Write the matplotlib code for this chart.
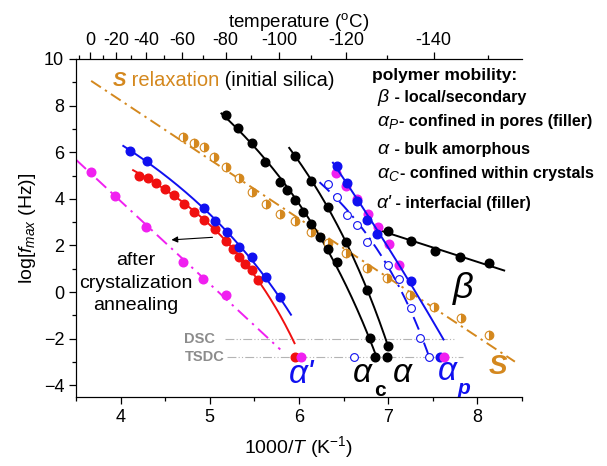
import numpy as np
import matplotlib
matplotlib.use("Agg")
import matplotlib.pyplot as plt

plt.rcParams['font.family'] = ['Liberation Sans', 'DejaVu Sans']
plt.rcParams['mathtext.fontset'] = 'custom'
plt.rcParams['mathtext.rm'] = 'Liberation Sans'
plt.rcParams['mathtext.it'] = 'Liberation Sans:italic'
plt.rcParams['mathtext.bf'] = 'Liberation Sans:bold'

# ---------------- data (x = 1000/T in 1/K, y = log f_max) ----------------
# after crystallization annealing (magenta, dash-dot)
anneal_x = [3.67, 3.94, 4.29, 4.70, 4.92, 5.18]
anneal_y = [5.16, 4.12, 2.80, 1.30, 0.56, -0.13]

# interfacial alpha' (red)
red_x = [4.21, 4.31, 4.40, 4.50, 4.60, 4.71, 4.82, 4.94, 5.06, 5.18, 5.26, 5.33, 5.40, 5.47, 5.54]
red_y = [5.00, 4.90, 4.69, 4.42, 4.15, 3.80, 3.45, 3.09, 2.70, 2.18, 1.85, 1.52, 1.20, 0.95, 0.52]
red_fit_end = (5.95, -2.20)

# interfacial alpha' (blue)
blue_x = [4.11, 4.30, 4.93, 5.06, 5.19, 5.33, 5.47, 5.63, 5.79]
blue_y = [6.06, 5.62, 3.59, 3.05, 2.57, 1.94, 1.49, 0.63, -0.20]
blue_fit_end = (5.91, -1.06)

# alpha_c (confined within crystals)
ac_x = [5.18, 5.32, 5.47, 5.62, 5.79, 5.87, 5.96, 6.05, 6.14, 6.24, 6.33, 6.43]
ac_y = [7.60, 7.03, 6.41, 5.60, 4.72, 4.38, 3.95, 3.45, 2.92, 2.38, 1.83, 1.30]
ac_cal_x = [6.80, 6.85]
ac_cal_y = [-1.98, -2.79]

# alpha (bulk amorphous)
a_x = [5.96, 6.13, 6.33, 6.53, 6.76]
a_y = [5.84, 4.78, 3.64, 2.14, 0.09]
a_cal_x = [7.00, 6.99]
a_cal_y = [-2.32, -2.78]

# alpha_p (confined in pores), blue and magenta samples
ap_blue_x = [6.43, 6.54, 6.65, 6.76, 6.87, 7.25]
ap_blue_y = [5.42, 4.68, 3.90, 3.10, 2.50, 0.48]
ap_mag_x = [6.42, 6.53, 6.65, 6.77, 6.88, 7.01, 7.12]
ap_mag_y = [5.12, 4.55, 3.98, 3.37, 2.80, 2.07, 1.16]
ap_fit_ends_x = [6.38, 7.62]
ap_fit_ends_y = [5.81, -2.11]

# open blue circles (dash-dot)
open_x = [6.32, 6.43, 6.54, 6.65, 6.76, 7.00, 7.12, 7.25]
open_y = [4.64, 4.06, 3.32, 2.88, 2.16, 1.18, 0.56, -0.68]
open_cal_x = [7.36, 7.46, 6.62]
open_cal_y = [-1.96, -2.80, -2.80]

# S relaxation (initial silica)
s_x = [4.70, 4.82, 4.93, 5.05, 5.18, 5.33, 5.47, 5.63, 5.79, 5.96, 6.13, 6.33,
       6.53, 6.76, 6.99, 7.24, 7.51, 7.82, 8.13]
s_y = [6.64, 6.41, 6.21, 5.78, 5.38, 4.90, 4.30, 3.80, 3.36, 3.04, 2.57, 2.12,
       1.66, 1.02, 0.60, -0.13, -0.66, -1.13, -1.82]

# beta (local/secondary)
beta_x = [7.00, 7.25, 7.52, 7.81, 8.13]
beta_y = [2.63, 2.20, 1.76, 1.49, 1.23]

# calorimetric levels
dsc_level = -2.0
tsdc_level = -2.8
red_tsdc = (5.95, -2.80)
mag_tsdc = (6.02, -2.80)
ap_blue_tsdc = (7.58, -2.78)
ap_mag_tsdc = (7.63, -2.78)

# top axis temperatures (deg C)
top_major_c = [0, -20, -40, -60, -80, -100, -120, -140]
top_minor_c = [10, -10, -30, -50, -70, -90, -110, -130, -150]

# legend of mobilities: (symbol, description)
legend_symbols = [r"$\beta$", r"$\alpha_P$", r"$\alpha$", r"$\alpha_C$", "\u03b1'"]
legend_texts = [" - local/secondary", "- confined in pores (filler)",
                " - bulk amorphous", "- confined within crystals",
                " - interfacial (filler)"]
legend_rows_y = [8.37, 7.34, 6.14, 5.11, 3.82]

# colours
C_BLUE = '#1010f0'
C_RED = '#f01010'
C_MAG = '#f020f0'
C_ORANGE = '#d4881e'
C_GREY = '#8c8c8c'


def vft_fit(xs, ys, x_lo, x_hi, n=400):
    """VFT fit log f = A + B/(T - T0), T = 1000/x; returns curve on [x_lo, x_hi]."""
    xs = np.asarray(xs, float)
    ys = np.asarray(ys, float)
    T = 1000.0 / xs
    xx = np.linspace(x_lo, x_hi, n)
    TT = 1000.0 / xx
    best = None
    for T0 in np.linspace(0.0, min(T.min(), TT.min()) - 0.5, 600):
        X = 1.0 / (T - T0)
        M = np.vstack([np.ones_like(X), X]).T
        coef, *_ = np.linalg.lstsq(M, ys, rcond=None)
        r = np.sum((M @ coef - ys) ** 2)
        if best is None or r < best[0]:
            best = (r, T0, coef)
    _, T0, coef = best
    return xx, coef[0] + coef[1] / (TT - T0)


def lin_fit(xs, ys, x_lo, x_hi):
    p = np.polyfit(xs, ys, 1)
    xx = np.linspace(x_lo, x_hi, 50)
    return xx, np.polyval(p, xx)


fig = plt.figure(figsize=(6.07, 4.66), dpi=100)
ax = fig.add_axes([0.1252, 0.1481, 0.7348, 0.7253])
ax.set_xlim(3.5, 8.5)
ax.set_ylim(-4.5, 10)

LW = 1.4
MS = 6.2

# calorimetric reference lines
ax.plot([5.17, 7.75], [dsc_level, dsc_level], color='#b4b4b4', lw=0.8,
        ls=(0, (8, 2, 1, 2, 1, 2)), zorder=1)
ax.plot([5.19, 7.84], [tsdc_level, tsdc_level], color='#b4b4b4', lw=0.8,
        ls=(0, (8, 2, 1, 2, 1, 2)), zorder=1)
ax.text(5.06, dsc_level, 'DSC', color=C_GREY, fontsize=10.5, fontweight='bold',
        ha='right', va='center')
ax.text(5.17, tsdc_level, 'TSDC', color=C_GREY, fontsize=10.5, fontweight='bold',
        ha='right', va='center')

# S relaxation
xx, yy = lin_fit(s_x, s_y, 3.67, 8.42)
ax.plot(xx, yy, color=C_ORANGE, lw=LW, ls=(0, (6, 2.5, 1.2, 2.5)), zorder=2)
ax.plot(s_x, s_y, 'o', ms=MS, color=C_ORANGE, fillstyle='right',
        markerfacecoloralt='white', mec=C_ORANGE, mew=0.8, zorder=3)

# annealed sample (magenta)
xx, yy = vft_fit(anneal_x, anneal_y, 3.5, 5.79)
ax.plot(xx, yy, color=C_MAG, lw=LW, ls=(0, (7, 3, 1.2, 3)), zorder=2)
ax.plot(anneal_x, anneal_y, 'o', ms=MS, color=C_MAG, mec=C_MAG, zorder=3)

# alpha' red and blue
xx, yy = vft_fit(red_x + [red_fit_end[0]], red_y + [red_fit_end[1]], 4.14, 5.95)
ax.plot(xx, yy, color=C_RED, lw=LW, zorder=2)
ax.plot(red_x, red_y, 'o', ms=MS, color=C_RED, mec=C_RED, zorder=3)
xx, yy = vft_fit(blue_x + [blue_fit_end[0]], blue_y + [blue_fit_end[1]], 4.03, 5.91)
ax.plot(xx, yy, color=C_BLUE, lw=LW, zorder=2)
ax.plot(blue_x, blue_y, 'o', ms=MS, color=C_BLUE, mec=C_BLUE, zorder=3)
ax.plot(*red_tsdc, 'o', ms=MS, color=C_RED, mec=C_RED, zorder=3)
ax.plot(*mag_tsdc, 'o', ms=MS, color=C_MAG, mec=C_MAG, zorder=3)

# alpha_c
xx, yy = vft_fit(ac_x + ac_cal_x, ac_y + ac_cal_y, 5.13, 6.87)
ax.plot(xx, yy, color='black', lw=LW, zorder=2)
ax.plot(ac_x + ac_cal_x, ac_y + ac_cal_y, 'o', ms=MS, color='black', zorder=3)

# alpha
xx, yy = vft_fit(a_x + a_cal_x[:1], a_y + a_cal_y[:1], 5.89, 7.0)
ax.plot(xx, yy, color='black', lw=LW, zorder=2)
ax.plot(a_x + a_cal_x, a_y + a_cal_y, 'o', ms=MS, color='black', zorder=3)

# open circles (dash-dot)
xx, yy = vft_fit(open_x + open_cal_x[:2], open_y + open_cal_y[:2], 6.23, 7.46)
ax.plot(xx, yy, color=C_BLUE, lw=LW, ls=(0, (7, 3, 1.2, 3)), zorder=2)
ax.plot(open_x + open_cal_x, open_y + open_cal_y, 'o', ms=MS - 0.6, mfc='white',
        mec=C_BLUE, mew=0.8, zorder=3)

# alpha_p
ax.plot(ap_mag_x, ap_mag_y, 'o', ms=MS, color=C_MAG, mec=C_MAG, zorder=3)
ax.plot(ap_blue_x, ap_blue_y, 'o', ms=MS, color=C_BLUE, mec=C_BLUE, zorder=3)
xx, yy = vft_fit(ap_blue_x + ap_mag_x + ap_fit_ends_x,
                 ap_blue_y + ap_mag_y + ap_fit_ends_y, 6.38, 7.62)
ax.plot(xx, yy, color=C_BLUE, lw=LW, zorder=4)
ax.plot(*ap_blue_tsdc, 'o', ms=MS, color=C_BLUE, mec=C_BLUE, zorder=3)
ax.plot(*ap_mag_tsdc, 'o', ms=MS, color=C_MAG, mec=C_MAG, zorder=3)

# beta
xx, yy = lin_fit(beta_x, beta_y, 6.87, 8.30)
ax.plot(xx, yy, color='black', lw=LW, zorder=2)
ax.plot(beta_x, beta_y, 'o', ms=MS, color='black', zorder=3)

# arrow towards annealed data
ax.annotate('', xy=(4.57, 2.24), xytext=(5.03, 2.35),
            arrowprops=dict(arrowstyle='-|>', color='black', lw=0.8,
                            mutation_scale=9, shrinkA=0, shrinkB=0))
ax.text(4.17, 1.70, 'after\ncrystalization\nannealing', ha='center', va='top',
        fontsize=14, linespacing=1.4)

# curve labels
ax.text(6.03, -3.55, "\u03b1'", color=C_BLUE, fontsize=24, fontstyle='italic',
        ha='center', va='center')
ax.text(6.72, -3.5, r"$\alpha$", color='black', fontsize=24, ha='center', va='center')
ax.text(6.91, -4.22, 'c', color='black', fontsize=15, fontweight='bold',
        ha='center', va='center')
ax.text(7.17, -3.5, r"$\alpha$", color='black', fontsize=24, ha='center', va='center')
ax.text(7.67, -3.4, r"$\alpha$", color=C_BLUE, fontsize=24, ha='center', va='center')
ax.text(7.85, -4.15, 'p', color=C_BLUE, fontsize=15, fontweight='bold',
        fontstyle='italic', ha='center', va='center')
ax.text(7.84, 0.15, r"$\beta$", color='black', fontsize=26, ha='center', va='center')
ax.text(8.23, -3.2, 'S', color=C_ORANGE, fontsize=20, fontweight='bold',
        fontstyle='italic', ha='center', va='center')

ax.text(6.82, 9.31, 'polymer mobility:', fontsize=12.5, fontweight='bold',
        ha='left', va='center')

fig.canvas.draw()
renderer = fig.canvas.get_renderer()


def chain(x_data, y_data, pieces):
    """Place text pieces one after another on a common baseline."""
    x_disp, y_disp = ax.transData.transform((x_data, y_data))
    W, H = fig.get_figwidth() * fig.dpi, fig.get_figheight() * fig.dpi
    for s, kw in pieces:
        t = fig.text(x_disp / W, y_disp / H, s, ha='left', va='baseline', **kw)
        x_disp = t.get_window_extent(renderer).x1


# legend rows: italic Greek symbol followed by bold description
for sym, txt, yv in zip(legend_symbols, legend_texts, legend_rows_y):
    chain(6.87, yv - 0.22, [(sym, dict(fontsize=14, fontstyle='italic')),
                            (txt, dict(fontsize=11.6, fontweight='bold'))])

# S relaxation title
chain(3.91, 8.83, [('S', dict(color=C_ORANGE, fontweight='bold', fontstyle='italic', fontsize=14.5)),
                   (' relaxation', dict(color=C_ORANGE, fontsize=14.5)),
                   (' (initial silica)', dict(color='black', fontsize=14.5))])

# axes styling
ax.spines['right'].set_visible(False)
ax.set_xticks([4, 5, 6, 7, 8])
ax.set_xticks(np.arange(3.5, 8.51, 1.0), minor=True)
ax.set_yticks(np.arange(-4, 10.1, 2))
ax.set_yticks(np.arange(-3, 10, 2), minor=True)
ax.tick_params(which='both', direction='out', labelsize=13, right=False, top=False)
ax.tick_params(which='major', length=5, width=0.9)
ax.tick_params(which='minor', length=3, width=0.9)
ax.set_xlabel(r'1000/$T$ (K$^{\mathregular{-1}}$)', fontsize=14, labelpad=6)
ax.set_ylabel(r'log[$f_{max}$ (Hz)]', fontsize=14, labelpad=4)

# temperature axis on top
ax2 = ax.twiny()
ax2.set_xlim(ax.get_xlim())
ax2.spines['right'].set_visible(False)
ax2.set_xticks([1000.0 / (c + 273.15) for c in top_major_c])
ax2.set_xticklabels([str(c) for c in top_major_c])
ax2.set_xticks([1000.0 / (c + 273.15) for c in top_minor_c], minor=True)
ax2.tick_params(which='both', direction='out', labelsize=13, pad=2)
ax2.tick_params(which='major', length=5, width=0.9)
ax2.tick_params(which='minor', length=3, width=0.9)
ax2.set_xlabel(r'temperature ($^{\mathregular{o}}$C)', fontsize=13.5, labelpad=4)

fig.savefig('out.png', dpi=100)
